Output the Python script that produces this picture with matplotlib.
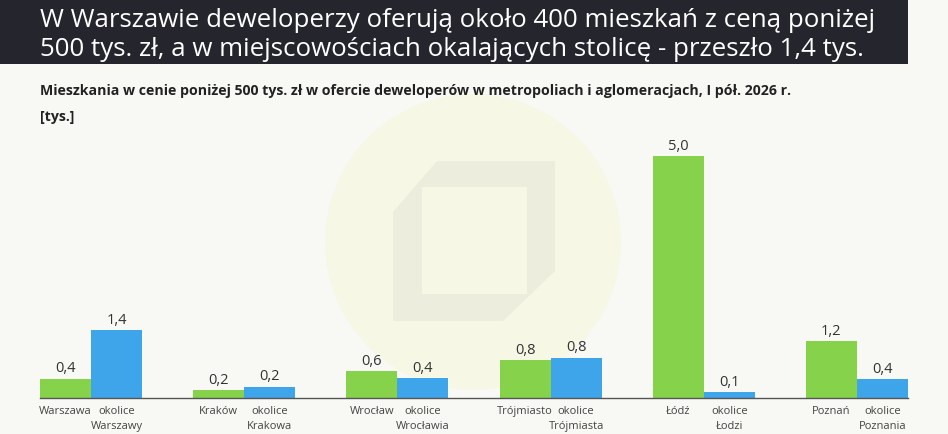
import matplotlib
matplotlib.use("Agg")
import matplotlib.pyplot as plt
from matplotlib.patches import Rectangle, Ellipse, Polygon
import numpy as np

# ---- data ----
cities = ["Warszawa", "Kraków", "Wrocław", "Trójmiasto", "Łódź", "Poznań"]
surroundings = ["okolice\nWarszawy", "okolice\nKrakowa", "okolice\nWrocławia",
                "okolice\nTrójmiasta", "okolice\nŁodzi", "okolice\nPoznania"]
city_values = [0.40, 0.17, 0.56, 0.79, 5.0, 1.18]
surr_values = [1.40, 0.24, 0.41, 0.84, 0.12, 0.39]

title = ("W Warszawie deweloperzy oferują około 400 mieszkań z ceną poniżej\n"
         "500 tys. zł, a w miejscowościach okalających stolicę - przeszło 1,4 tys.")
subtitle = "Mieszkania w cenie poniżej 500 tys. zł w ofercie deweloperów w metropoliach i aglomeracjach, I pół. 2026 r."
unit = "[tys.]"

GREEN = "#86d24b"
BLUE = "#3fa5ea"
W, H = 948, 435

plt.rcParams['font.family'] = ['Open Sans', 'DejaVu Sans']

fig = plt.figure(figsize=(W / 100, H / 100), dpi=100)
fig.patch.set_facecolor("#f8f8f5")

def fx(x):
    return x / W

def fy(y):
    return 1 - y / H

# watermark circle + logo
cx, cy, r = 473, 243, 148
fig.patches.append(Ellipse((fx(cx), fy(cy)), 2 * r / W, 2 * r / H,
                           transform=fig.transFigure, facecolor="#f7f7e5",
                           edgecolor="none", zorder=0))
hexpts = [(437, 162), (555, 162), (555, 272), (503, 322), (393, 322), (393, 213)]
fig.patches.append(Polygon([(fx(x), fy(y)) for x, y in hexpts], closed=True,
                           transform=fig.transFigure, facecolor="#ededdd",
                           edgecolor="none", zorder=0.5))
fig.patches.append(Rectangle((fx(422), fy(295)), (527 - 422) / W, (295 - 188) / H,
                             transform=fig.transFigure, facecolor="#f7f7e5",
                             edgecolor="none", zorder=0.6))

# title banner
fig.patches.append(Rectangle((0, fy(65)), 908 / W, 65 / H, transform=fig.transFigure,
                             facecolor="#24252d", edgecolor="none", zorder=1))
lines = title.split("\n")
fig.text(fx(40), fy(27), lines[0], color="white", fontsize=18.6, va="baseline",
         ha="left", zorder=2)
fig.text(fx(40), fy(56), lines[1], color="white", fontsize=18.6, va="baseline",
         ha="left", zorder=2)

fig.text(fx(40), fy(95), subtitle, color="#222222", fontsize=10.2, fontweight="bold",
         va="baseline", ha="left")
fig.text(fx(40), fy(121), unit, color="#222222", fontsize=10.2, fontweight="bold",
         va="baseline", ha="left")

# axes
base_y = 399.3
top_y = 140
px_per_unit = 48.46
ymax = (base_y - top_y) / px_per_unit
ax = fig.add_axes([fx(40), (H - base_y) / H, (908 - 40) / W, (base_y - top_y) / H])
ax.patch.set_alpha(0)
ax.set_zorder(5)

n = len(cities)
x = np.arange(n)
bw = 1 / 3
b1 = ax.bar(x - bw / 2, city_values, bw, color=GREEN, zorder=3)
b2 = ax.bar(x + bw / 2, surr_values, bw, color=BLUE, zorder=3)

for bars, vals in ((b1, city_values), (b2, surr_values)):
    for b, v in zip(bars, vals):
        ax.annotate(f"{v:.1f}".replace(".", ","),
                    (b.get_x() + b.get_width() / 2, b.get_height()),
                    xytext=(0, 2.5), textcoords="offset points", ha="center",
                    va="bottom", fontsize=10.5, color="#333333")

ax.set_xlim(-1 / 3, n - 1 + 1 / 3)
ax.set_ylim(0, ymax)
ax.set_yticks([])
ticks = list(np.ravel(np.column_stack([x - bw / 2, x + bw / 2])))
labels = [lab for pair in zip(cities, surroundings) for lab in pair]
ax.set_xticks(ticks)
ax.set_xticklabels(labels, fontsize=8, color="#444444", linespacing=1.45)
ax.tick_params(axis="x", length=0, pad=5)
for s in ["top", "right", "left"]:
    ax.spines[s].set_visible(False)
ax.spines["bottom"].set_color("#555555")
ax.spines["bottom"].set_linewidth(1)
ax.spines["bottom"].set_zorder(4)

fig.savefig("out.png", dpi=100, facecolor=fig.get_facecolor())
